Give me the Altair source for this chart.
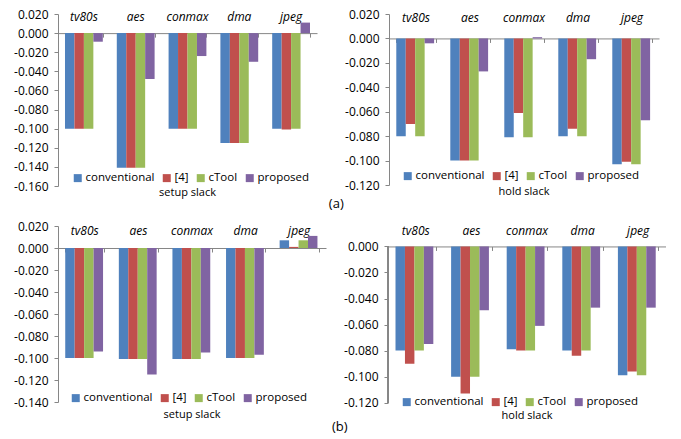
import altair as alt
import pandas as pd

categories = ["tv80s", "aes", "conmax", "dma", "jpeg"]
series = ["conventional", "[4]", "cTool", "proposed"]
colors = ["#4F81BD", "#C0504D", "#9BBB59", "#8064A2"]

# (a) setup slack
a_setup_conventional = [-0.100, -0.141, -0.100, -0.115, -0.100]
a_setup_ref4 = [-0.100, -0.141, -0.100, -0.115, -0.101]
a_setup_ctool = [-0.100, -0.141, -0.100, -0.115, -0.100]
a_setup_proposed = [-0.009, -0.048, -0.024, -0.030, 0.011]

# (a) hold slack
a_hold_conventional = [-0.080, -0.100, -0.081, -0.080, -0.103]
a_hold_ref4 = [-0.070, -0.100, -0.061, -0.074, -0.101]
a_hold_ctool = [-0.080, -0.100, -0.081, -0.080, -0.103]
a_hold_proposed = [-0.004, -0.027, 0.001, -0.017, -0.067]

# (b) setup slack
b_setup_conventional = [-0.100, -0.101, -0.101, -0.100, 0.007]
b_setup_ref4 = [-0.100, -0.101, -0.101, -0.100, 0.001]
b_setup_ctool = [-0.100, -0.101, -0.101, -0.100, 0.007]
b_setup_proposed = [-0.094, -0.115, -0.095, -0.097, 0.011]

# (b) hold slack
b_hold_conventional = [-0.080, -0.100, -0.079, -0.080, -0.099]
b_hold_ref4 = [-0.090, -0.113, -0.080, -0.084, -0.096]
b_hold_ctool = [-0.080, -0.100, -0.080, -0.080, -0.099]
b_hold_proposed = [-0.075, -0.049, -0.061, -0.047, -0.047]

FONT = "Open Sans"
GRAY = "#868686"


def make_df(vals):
    rows = []
    for s, arr in zip(series, vals):
        for c, v in zip(categories, arr):
            rows.append({"cat": c, "series": s, "value": v})
    return pd.DataFrame(rows)


def panel(vals, ymin, ymax, w, h, title, lx, ly, cat_pad, title_off,
          tick_top=None):
    df = make_df(vals)
    top = ymax if tick_top is None else tick_top
    n = int(round((top - ymin) / 0.02))
    ticks = [round(top - 0.02 * i, 3) for i in range(n + 1)]
    xscale = alt.Scale(domain=categories, paddingInner=0.27, paddingOuter=0.135)
    yscale = alt.Scale(domain=[ymin, ymax], nice=False, zero=False)
    yaxis = alt.Axis(values=ticks, title=None, grid=False,
                     domain=tick_top is None, labelOverlap=False,
                     domainColor=GRAY, tickColor=GRAY, tickSize=4,
                     labelFontSize=12, labelFont=FONT, labelColor="#000",
                     labelPadding=6,
                     labelExpr="(datum.value < -1e-9 ? '-' : '') + format(abs(datum.value), '.3f')")
    zero_off = -h * (0 - ymin) / (ymax - ymin)
    bars = alt.Chart(df).mark_bar().encode(
        x=alt.X("cat:N", sort=categories, scale=xscale,
                axis=alt.Axis(orient="top", title=None, domain=False, ticks=False,
                              tickSize=0, labelAngle=0, labelFontStyle="italic",
                              labelFontSize=12, labelFont=FONT, labelColor="#000",
                              labelPadding=cat_pad)),
        xOffset=alt.XOffset("series:N", sort=series, scale=alt.Scale(domain=series)),
        y=alt.Y("value:Q", stack=None, scale=yscale, axis=yaxis),
        color=alt.Color("series:N", sort=series,
                        scale=alt.Scale(domain=series, range=colors),
                        legend=alt.Legend(orient="none", legendX=lx, legendY=ly,
                                          direction="horizontal", title=None,
                                          symbolType="square", symbolSize=64,
                                          symbolStrokeWidth=0, labelFontSize=11.5,
                                          labelFont=FONT, labelColor="#000",
                                          labelOffset=2, columnPadding=6, padding=0)),
    )
    base = alt.Chart(df).mark_rule(opacity=0).encode(
        x=alt.X("cat:N", sort=categories, scale=xscale,
                axis=alt.Axis(orient="bottom", title=None, labels=False,
                              offset=zero_off, tickBand="extent",
                              domainColor=GRAY, tickColor=GRAY, tickSize=4)),
        y=alt.value(0),
        y2=alt.value(1),
    )
    layers = [bars, base]
    if tick_top is not None:
        axis_line = alt.Chart(df).mark_rule(color=GRAY, strokeWidth=1).encode(
            x=alt.value(0),
            y=alt.Y(datum=tick_top, type="quantitative", scale=yscale, axis=yaxis),
            y2=alt.datum(ymin),
        )
        layers.append(axis_line)
    return alt.layer(*layers).properties(
        width=w, height=h,
        title=alt.TitleParams(title, orient="bottom", fontSize=11, font=FONT,
                              fontWeight="normal", color="#000", offset=title_off),
    )


p1 = panel([a_setup_conventional, a_setup_ref4, a_setup_ctool, a_setup_proposed],
           -0.16, 0.02, 259, 172, "setup slack", 14, 158, -9, -5)
p2 = panel([a_hold_conventional, a_hold_ref4, a_hold_ctool, a_hold_proposed],
           -0.12, 0.02, 270, 171, "hold slack", 13, 156, -10, -5)
p3 = panel([b_setup_conventional, b_setup_ref4, b_setup_ctool, b_setup_proposed],
           -0.14, 0.02, 268, 176, "setup slack", 12, 166, -11, 1)
p4 = panel([b_hold_conventional, b_hold_ref4, b_hold_ctool, b_hold_proposed],
           -0.12, 0.0157, 278, 176.7, "hold slack", 13, 170, -11.7, 1,
           tick_top=0.0)

row_title = dict(orient="bottom", fontSize=13, font=FONT, fontWeight="normal",
                 color="#000", anchor="middle", offset=0)

row1 = alt.hconcat(p1, p2, spacing=27).resolve_scale(color="independent").properties(
    title=alt.TitleParams("(a)", **row_title))
row2 = alt.hconcat(p3, p4, spacing=17).resolve_scale(color="independent").properties(
    title=alt.TitleParams("(b)", **row_title))

chart = alt.vconcat(row1, row2, spacing=9).resolve_scale(color="independent").properties(
    padding={"left": 5, "top": 0, "right": 0, "bottom": 0},
    background="white",
).configure_view(stroke=None)

chart.save("out.html", embed_options={"renderer": "svg", "actions": False})
